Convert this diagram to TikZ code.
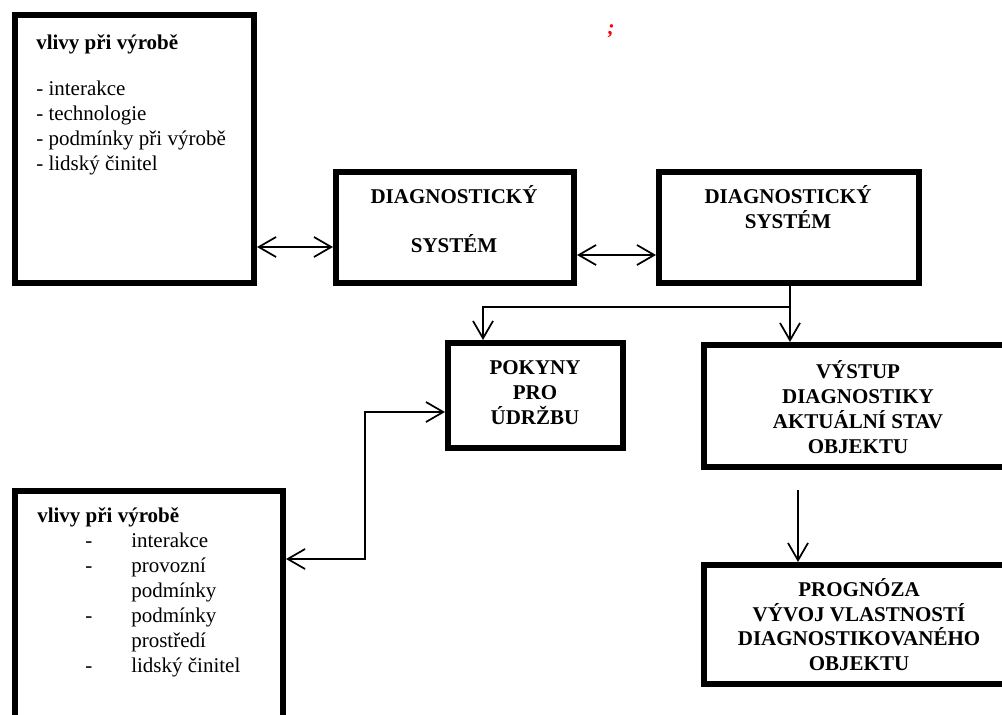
\documentclass[tikz,border=0pt]{standalone}
\usepackage{fontspec}
\setmainfont{Liberation Serif}
\usetikzlibrary{arrows.meta,fit}
\begin{document}
\begin{tikzpicture}[x=0.75pt,y=-0.75pt,
  box/.style={draw=black,line width=4.5pt,inner sep=0pt,fill=white},
  txt/.style={inner sep=0pt,anchor=base,font=\fontsize{15.75}{18.75}\selectfont},
  ltxt/.style={txt,anchor=base west},
  btxt/.style={txt,font=\fontsize{15.75}{18.75}\selectfont\bfseries},
  lbtxt/.style={btxt,anchor=base west},
  conn/.style={draw=black,line width=1.3pt},
  tip/.style={conn,arrows={-Straight Barb[length=13pt,width=15pt,line width=1.3pt]}},
  tips/.style={conn,arrows={Straight Barb[length=13pt,width=15pt,line width=1.3pt]-Straight Barb[length=13pt,width=15pt,line width=1.3pt]}}
]
\useasboundingbox (0,0) rectangle (1002,714);
\clip (0,0) rectangle (1002,714);

% boxes
\node[box,fit={(15,15) (254,283)}] (A) {};
\node[box,fit={(336,172) (574,283)}] (B) {};
\node[box,fit={(659,172) (919,283)}] (C) {};
\node[box,fit={(448,343) (623,448)}] (D) {};
\node[box,fit={(704,345) (1012,467)}] (E) {};
\node[box,fit={(704,565) (1012,684)}] (F) {};
\node[box,fit={(15,491) (283,740)}] (G) {};

% texts box A
\node[lbtxt] (a0) at (36,49) {vlivy při výrobě};
\node[ltxt] (a1) at (36,95) {- interakce};
\node[ltxt] (a2) at (36,120) {- technologie};
\node[ltxt] (a3) at (36,145) {- podmínky při výrobě};
\node[ltxt] (a4) at (36,170) {- lidský činitel};

% box B
\node[btxt] (b1) at (454,203) {DIAGNOSTICKÝ};
\node[btxt] (b2) at (454,252) {SYSTÉM};

% box C
\node[btxt] (c1) at (788,203) {DIAGNOSTICKÝ};
\node[btxt] (c2) at (788,228) {SYSTÉM};

% box D
\node[btxt] (d1) at (535,374) {POKYNY};
\node[btxt] (d2) at (535,399) {PRO};
\node[btxt] (d3) at (535,424) {ÚDRŽBU};

% box E
\node[btxt] (e1) at (858,378) {VÝSTUP};
\node[btxt] (e2) at (858,403) {DIAGNOSTIKY};
\node[btxt] (e3) at (858,428) {AKTUÁLNÍ STAV};
\node[btxt] (e4) at (858,453) {OBJEKTU};

% box F
\node[btxt] (f1) at (859,596) {PROGNÓZA};
\node[btxt] (f2) at (859,621) {VÝVOJ VLASTNOSTÍ};
\node[btxt] (f3) at (859,645) {DIAGNOSTIKOVANÉHO};
\node[btxt] (f4) at (859,670) {OBJEKTU};

% box G
\node[lbtxt] (g0) at (37,522) {vlivy při výrobě};
\node[ltxt] (gd1) at (85,547) {-};
\node[ltxt] (g1) at (131,547) {interakce};
\node[ltxt] (gd2) at (85,572) {-};
\node[ltxt] (g2) at (131,572) {provozní};
\node[ltxt] (g3) at (131,597) {podmínky};
\node[ltxt] (gd4) at (85,622) {-};
\node[ltxt] (g4) at (131,622) {podmínky};
\node[ltxt] (g5) at (131,647) {prostředí};
\node[ltxt] (gd6) at (85,672) {-};
\node[ltxt] (g6) at (131,672) {lidský činitel};

% red semicolon
\node[btxt,text=red,font=\fontsize{15.75}{18.75}\selectfont\bfseries\itshape] (semi) at (611,34) {;};

% connector helper coordinates
\coordinate (ab) at (0,247);
\coordinate (bc) at (0,255);
\coordinate (split) at (790,307);
\coordinate (dtop) at (483,0);
\coordinate (jog) at (365,412);
\coordinate (gd) at (0,559);
\coordinate (ef) at (798,490);

% connectors
\draw[tips] (A.east |- ab) -- (B.west |- ab);
\draw[tips] (B.east |- bc) -- (C.west |- bc);
\draw[conn] (C.south -| split) -- (split);
\draw[tip] (split) -| (dtop |- D.north);
\draw[tip] (split) -- (split |- E.north);
\draw[tips] (G.east |- gd) -| (jog) -- (D.west |- jog);
\draw[tip] (ef) -- (ef |- F.north);
\end{tikzpicture}
\end{document}
